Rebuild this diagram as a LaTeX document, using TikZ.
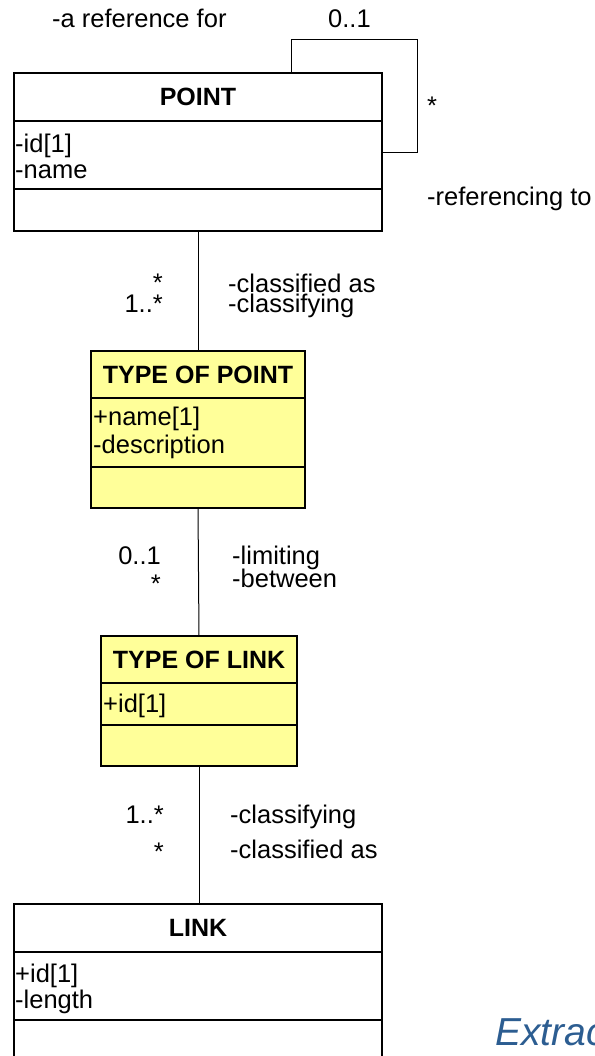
\documentclass[tikz,border=0pt]{standalone}
\usepackage{fontspec}
\setmainfont{Liberation Sans}
\usetikzlibrary{positioning}

\definecolor{classyellow}{RGB}{255,255,153}
\definecolor{captionblue}{RGB}{44,93,145}

\tikzset{
  comp/.style={draw, line width=1.8bp, rectangle, inner sep=0pt, outer sep=0pt},
  title/.style={comp, font=\fontsize{25bp}{30bp}\selectfont\bfseries},
  yellowclass/.style={fill=classyellow},
  attr/.style={anchor=base west, inner sep=0pt, font=\fontsize{25.5bp}{28bp}\selectfont},
  lbl/.style={inner sep=0pt, font=\fontsize{25.5bp}{28bp}\selectfont},
  assoc/.style={line width=1bp},
}

\begin{document}
\begin{tikzpicture}[x=1bp, y=-1bp]
  \useasboundingbox (0,0) rectangle (595,1056);
  \clip (0,0) rectangle (595,1056);

  % POINT
  \node[title, minimum width=368bp, minimum height=48bp] (point) at (198,97) {POINT};
  \node[comp, minimum width=368bp, minimum height=68bp, below=0pt of point] (point-attr) {};
  \node[comp, minimum width=368bp, minimum height=42bp, below=0pt of point-attr] (point-ops) {};
  \node[attr] (point-a1) at (15,152) {-id[1]};
  \node[attr] (point-a2) at (15,178) {-name};

  % TYPE OF POINT
  \node[title, yellowclass, minimum width=214bp, minimum height=47bp] (typt) at (198,374.5) {TYPE OF POINT};
  \node[comp, yellowclass, minimum width=214bp, minimum height=69bp, below=0pt of typt] (typt-attr) {};
  \node[comp, yellowclass, minimum width=214bp, minimum height=41bp, below=0pt of typt-attr] (typt-ops) {};
  \node[attr] (typt-a1) at (93,425) {+name[1]};
  \node[attr] (typt-a2) at (93,453) {-description};

  % TYPE OF LINK
  \node[title, yellowclass, minimum width=196bp, minimum height=47bp] (tylk) at (199,659.5) {TYPE OF LINK};
  \node[comp, yellowclass, minimum width=196bp, minimum height=42bp, below=0pt of tylk] (tylk-attr) {};
  \node[comp, yellowclass, minimum width=196bp, minimum height=41bp, below=0pt of tylk-attr] (tylk-ops) {};
  \node[attr] (tylk-a1) at (103,712) {+id[1]};

  % LINK
  \node[title, minimum width=368bp, minimum height=48bp] (link) at (198,928) {LINK};
  \node[comp, minimum width=368bp, minimum height=68bp, below=0pt of link] (link-attr) {};
  \node[comp, minimum width=368bp, minimum height=42bp, below=0pt of link-attr] (link-ops) {};
  \node[attr] (link-a1) at (15,982) {+id[1]};
  \node[attr] (link-a2) at (15,1008) {-length};

  % self reference on POINT
  \coordinate (loopTL) at (291,39);
  \coordinate (loopBR) at (417,152);
  \draw[assoc] (point.north -| loopTL) -- (loopTL) -| (loopBR) -- (loopBR -| point-attr.east);
  \node[lbl, anchor=base west] (ref-for) at (52,27) {-a reference for};
  \node[lbl, anchor=base west] (ref-mult) at (328,27) {0..1};
  \node[lbl, anchor=base west] (refto-mult) at (427,114) {*};
  \node[lbl, anchor=base west] (ref-to) at (427,205) {-referencing to};

  % associations down the chain
  \draw[assoc] (point-ops.south) -- (typt.north);
  \draw[assoc] (typt-ops.south) -- (tylk.north);
  \draw[assoc] (tylk-ops.south) -- (tylk-ops.south |- link.north);

  \node[lbl, anchor=base east] (m1a) at (163,291) {*};
  \node[lbl, anchor=base east] (m1b) at (163,312) {1..*};
  \node[lbl, anchor=base west] (r1a) at (228,292) {-classified as};
  \node[lbl, anchor=base west] (r1b) at (228,312) {-classifying};

  \node[lbl, anchor=base east] (m2a) at (161,564) {0..1};
  \node[lbl, anchor=base east] (m2b) at (161,592) {*};
  \node[lbl, anchor=base west] (r2a) at (232,564) {-limiting};
  \node[lbl, anchor=base west] (r2b) at (232,587) {-between};

  \node[lbl, anchor=base east] (m3a) at (164,823) {1..*};
  \node[lbl, anchor=base east] (m3b) at (164,860) {*};
  \node[lbl, anchor=base west] (r3a) at (230,823) {-classifying};
  \node[lbl, anchor=base west] (r3b) at (230,858) {-classified as};

  \node[anchor=base west, inner sep=0pt, text=captionblue,
    font=\fontsize{39bp}{44bp}\selectfont\itshape] (caption) at (495,1045) {Extrac};
\end{tikzpicture}
\end{document}
